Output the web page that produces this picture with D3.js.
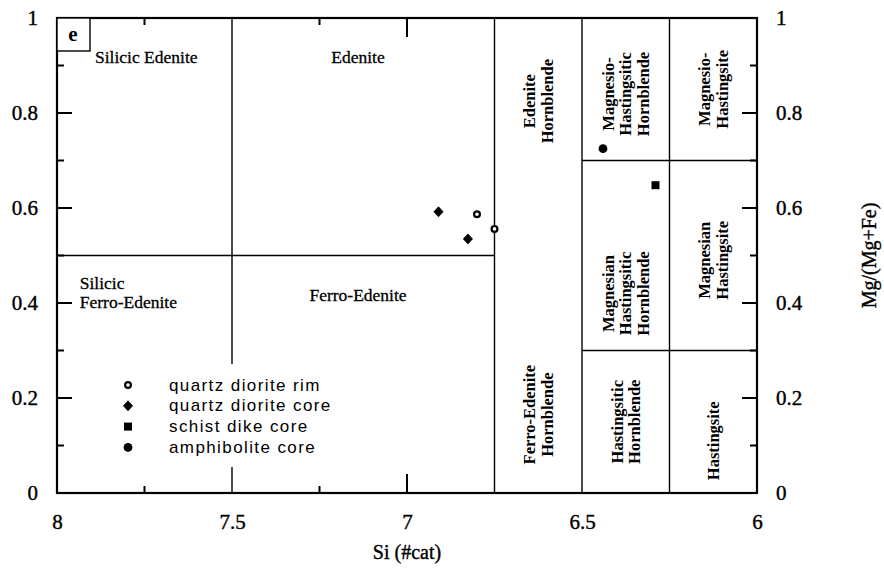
<!DOCTYPE html>
<html><head><meta charset="utf-8">
<script src="https://cdn.jsdelivr.net/npm/d3@7"></script>
<style>body{margin:0;background:#fff}svg{display:block}</style>
</head><body>
<svg id="c" width="884" height="573"></svg>
<script>
// ---- data ----
const xTicks = [8, 7.5, 7, 6.5, 6];
const yTicks = [0, 0.2, 0.4, 0.6, 0.8, 1];
const seriesNames = ["quartz diorite rim", "quartz diorite core", "schist dike core", "amphibolite core"];
const rimSi = [6.80, 6.75];
const rimMg = [0.587, 0.556];
const coreSi = [6.91, 6.826];
const coreMg = [0.592, 0.535];
const schistSi = [6.29];
const schistMg = [0.648];
const amphSi = [6.44];
const amphMg = [0.725];
// field boundaries
const vBounds = [7.5, 6.75, 6.5, 6.25];
const hBounds = [{y:0.5, x0:8, x1:6.75},{y:0.7, x0:6.5, x1:6},{y:0.3, x0:6.5, x1:6}];
const flatLabels = [
  {t:["Silicic Edenite"], x:7.745, y:0.905, a:"middle"},
  {t:["Edenite"], x:7.14, y:0.905, a:"middle"},
  {t:["Ferro-Edenite"], x:7.14, y:0.405, a:"middle"},
  {t:["Silicic","Ferro-Edenite"], x:7.935, y:0.43, a:"start"}
];
const rotLabels = [
  {t:["Edenite","Hornblende"], x:6.625, y:0.825},
  {t:["Magnesio-","Hastingsitic","Hornblende"], x:6.375, y:0.84},
  {t:["Magnesio-","Hastingsite"], x:6.125, y:0.85},
  {t:["Magnesian","Hastingsitic","Hornblende"], x:6.375, y:0.42},
  {t:["Magnesian","Hastingsite"], x:6.125, y:0.49},
  {t:["Ferro-Edenite","Hornblende"], x:6.625, y:0.165},
  {t:["Hastingsitic","Hornblende"], x:6.375, y:0.15},
  {t:["Hastingsite"], x:6.125, y:0.11}
];

const svg = d3.select("#c");
const x = d3.scaleLinear().domain([8, 6]).range([57, 757]);
const y = d3.scaleLinear().domain([0, 1]).range([493, 18]);
const serif = "'Liberation Serif','Times New Roman',serif";
const sans = "'Liberation Sans',Arial,sans-serif";

// internal boundaries
const g = svg.append("g").attr("stroke","#000").attr("stroke-width",1.4);
vBounds.forEach(v=>g.append("line").attr("x1",x(v)).attr("x2",x(v)).attr("y1",y(0)).attr("y2",y(1)));
hBounds.forEach(h=>g.append("line").attr("x1",x(h.x0)).attr("x2",x(h.x1)).attr("y1",y(h.y)).attr("y2",y(h.y)));

// ticks (inward)
const tk = svg.append("g").attr("stroke","#000").attr("stroke-width",2);
d3.range(0, 1.0001, 0.1).forEach((v,i)=>{
  const L = (i%2===0) ? 15 : 7;
  if (i===0||i===10) return;
  tk.append("line").attr("x1",x(8)).attr("x2",x(8)+L).attr("y1",y(v)).attr("y2",y(v));
  tk.append("line").attr("x1",x(6)).attr("x2",x(6)-L).attr("y1",y(v)).attr("y2",y(v));
});
[7.75, 7.25, 7].forEach(v=>{
  const L = (v===7) ? 19 : 7;
  tk.append("line").attr("x1",x(v)).attr("x2",x(v)).attr("y1",y(0)).attr("y2",y(0)-L);
  tk.append("line").attr("x1",x(v)).attr("x2",x(v)).attr("y1",y(1)).attr("y2",y(1)+L);
});

// frame
svg.append("rect").attr("x",x(8)).attr("y",y(1)).attr("width",x(6)-x(8)).attr("height",y(0)-y(1))
  .attr("fill","none").attr("stroke","#000").attr("stroke-width",2.2);

// panel label box
svg.append("rect").attr("x",x(8)).attr("y",y(1)).attr("width",33).attr("height",33)
  .attr("fill","#fff").attr("stroke","#000").attr("stroke-width",1.4);
svg.append("text").attr("x",x(8)+16).attr("y",y(1)+23).attr("text-anchor","middle")
  .attr("font-family",serif).attr("font-weight","bold").attr("font-size",21).text("e");

// axes labels
const heavy = sel => sel.attr("stroke","#000").attr("stroke-width",0.4);
const xAxis = d3.axisBottom(x).tickValues(xTicks).tickSize(0).tickPadding(0).tickFormat(d3.format("~g"));
const ax = svg.append("g").attr("transform",`translate(0,${y(0)+36})`).call(xAxis);
ax.select(".domain").remove();
ax.selectAll("text").attr("font-family",serif).attr("font-size",21).attr("fill","#000").attr("dy",0).call(heavy);
const yAxisL = d3.axisLeft(y).tickValues(yTicks).tickSize(0).tickPadding(0).tickFormat(d3.format("~g"));
const ayl = svg.append("g").attr("transform",`translate(38,0)`).call(yAxisL);
ayl.select(".domain").remove();
ayl.selectAll("text").attr("font-family",serif).attr("font-size",21).attr("fill","#000").attr("dy","0.32em").call(heavy);
const yAxisR = d3.axisRight(y).tickValues(yTicks).tickSize(0).tickPadding(0).tickFormat(d3.format("~g"));
const ayr = svg.append("g").attr("transform",`translate(776,0)`).call(yAxisR);
ayr.select(".domain").remove();
ayr.selectAll("text").attr("font-family",serif).attr("font-size",21).attr("fill","#000").attr("dy","0.32em").call(heavy);

svg.append("text").attr("x",x(7)).attr("y",559).attr("text-anchor","middle")
  .attr("font-family",serif).attr("font-size",20).call(heavy).text("Si (#cat)");
svg.append("text").attr("transform",`translate(876,${y(0.5)}) rotate(-90)`).attr("text-anchor","middle")
  .attr("font-family",serif).attr("font-size",20).call(heavy).text("Mg/(Mg+Fe)");

// field labels
flatLabels.forEach(l=>{
  const t = svg.append("text").attr("font-family",serif).attr("font-size",17.5).attr("text-anchor",l.a)
    .attr("stroke","#000").attr("stroke-width",0.3);
  l.t.forEach((s,i)=>t.append("tspan").attr("x",x(l.x)).attr("y",y(l.y)+i*19).text(s));
});
rotLabels.forEach(l=>{
  const n = l.t.length, lh = 17.5;
  const t = svg.append("text").attr("font-family",serif).attr("font-weight","bold").attr("font-size",16.5)
    .attr("text-anchor","middle")
    .attr("transform",`translate(${x(l.x)},${y(l.y)}) rotate(-90)`);
  l.t.forEach((s,i)=>t.append("tspan").attr("x",0).attr("y",(i-(n-1)/2)*lh+5.5).text(s));
});

// legend
const lg = svg.append("g");
lg.append("rect").attr("x",110).attr("y",364).attr("width",235).attr("height",103).attr("fill","#fff");
const sym = [
  (gg,cx,cy)=>gg.append("circle").attr("cx",cx).attr("cy",cy).attr("r",2.9).attr("fill","#fff").attr("stroke","#000").attr("stroke-width",2.2),
  (gg,cx,cy)=>gg.append("path").attr("d","M0,-5L4.6,0L0,5L-4.6,0Z").attr("transform",`translate(${cx},${cy})`).attr("fill","#000").attr("stroke","#000").attr("stroke-width",0.8).attr("stroke-linejoin","round"),
  (gg,cx,cy)=>gg.append("rect").attr("x",cx-4).attr("y",cy-4).attr("width",8).attr("height",8).attr("fill","#000"),
  (gg,cx,cy)=>gg.append("circle").attr("cx",cx).attr("cy",cy).attr("r",4.4).attr("fill","#000")
];
seriesNames.forEach((n,i)=>{
  const cy = 385 + i*20.8;
  sym[i](lg,128,cy);
  lg.append("text").attr("x",169).attr("y",cy+5.5).attr("font-family",sans).attr("font-size",17)
    .attr("letter-spacing",1.4).text(n);
});

// data points
const pts = svg.append("g");
rimSi.forEach((s,i)=>sym[0](pts,x(s),y(rimMg[i])));
coreSi.forEach((s,i)=>sym[1](pts,x(s),y(coreMg[i])));
schistSi.forEach((s,i)=>sym[2](pts,x(s),y(schistMg[i])));
amphSi.forEach((s,i)=>sym[3](pts,x(s),y(amphMg[i])));
</script>
</body></html>
